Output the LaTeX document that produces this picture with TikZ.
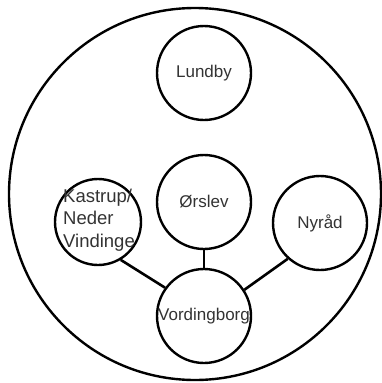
\documentclass[tikz,border=0pt]{standalone}
\usepackage{fontspec}
\setmainfont{Liberation Sans}
\usetikzlibrary{positioning}

\begin{document}
\begin{tikzpicture}[x=1pt,y=-1pt]
	\tikzset{
		town/.style = {shape=circle, draw, line width=2.4pt, minimum size=94pt, inner sep=0pt},
		town text/.style = {text=black!80, font=\fontsize{17}{22.5}\selectfont},
		link/.style = {draw, line width=2.6pt}
		}
		\useasboundingbox (0,0) rectangle (382,383);
		\draw [line width=2.4pt] (195,194) circle [radius=186pt];

		\path	(204,73) node [name=lundby, town, label={[town text]center:Lundby}] {}
				(204,202) node [name=orslev, town, label={[town text]center:Ørslev}] {}
				(98,222) node [name=kastrup, town, minimum size=86pt,
					label={[town text, font=\fontsize{18.5}{22.5}\selectfont, align=left, xshift=1pt, yshift=2pt]center:Kastrup/\\Neder\\Vindinge}] {}
				(320,223) node [name=nyrad, town, label={[town text]center:Nyråd}] {}
				(204,316) node [name=vording, town, label={[town text]center:Vordingborg}] {};

		\draw [link] (orslev.south) -- (vording.north);
		\draw [link] (kastrup.-59) -- (vording.144);
		\draw [link] (nyrad.-132) -- (vording.33);
	\end{tikzpicture}
\end{document}
